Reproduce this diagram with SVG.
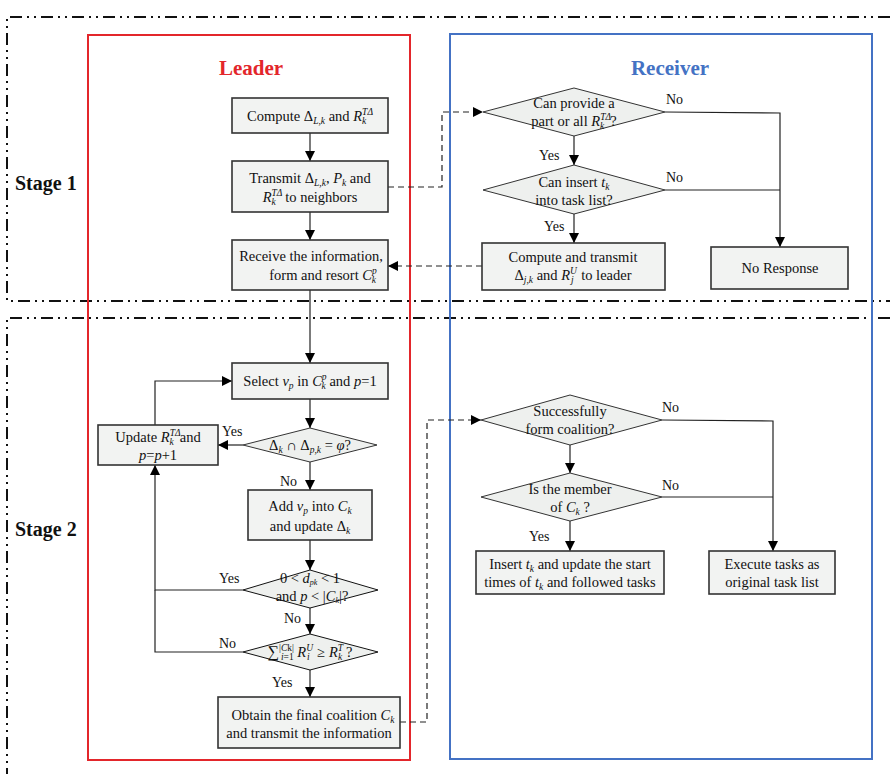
<svg xmlns="http://www.w3.org/2000/svg" width="890" height="774" viewBox="0 0 890 774">
<defs>
<marker id="ah" viewBox="0 0 10 10" refX="10" refY="5" markerWidth="10" markerHeight="10" markerUnits="userSpaceOnUse" orient="auto">
<path d="M0,0 L10,5 L0,10 z" fill="#000"/>
</marker>
<style>
.t{font-family:"Liberation Serif",serif;font-size:14.5px;fill:#111}
.i{font-style:italic}
.s{font-size:9.5px}
.lb{font-family:"Liberation Serif",serif;font-size:14px;fill:#111}
.box{fill:#f2f3f2;stroke:#333;stroke-width:1.6}
.dia{fill:#eef0ee;stroke:#333;stroke-width:1}
.c{fill:none;stroke:#222;stroke-width:1.2}
.cd{fill:none;stroke:#222;stroke-width:1.2;stroke-dasharray:6 4}
.a{marker-end:url(#ah)}
.stg{fill:none;stroke:#111;stroke-width:2;stroke-dasharray:12 5 2 5 2 5}
.h{font-family:"Liberation Serif",serif;font-weight:bold}
</style>
</defs>
<rect width="890" height="774" fill="#fff"/>

<g id="stages">
<polyline class="stg" points="890,17 7,17 7,301 890,301"/>
<polyline class="stg" points="890,318 7,318 7,774"/>
<text class="h" x="15" y="190" font-size="20" fill="#111">Stage 1</text>
<text class="h" x="15" y="536" font-size="20" fill="#111">Stage 2</text>
</g>

<g id="lanes">
<rect x="88" y="35" width="322" height="725" fill="none" stroke="#e3262b" stroke-width="2"/>
<rect x="450" y="34" width="422" height="725" fill="none" stroke="#4472c4" stroke-width="2"/>
<text class="h" x="251" y="75" font-size="21" fill="#e3262b" text-anchor="middle">Leader</text>
<text class="h" x="670" y="75" font-size="21" fill="#4472c4" text-anchor="middle">Receiver</text>
</g>

<g id="connectors">
<line class="c a" x1="310" y1="133" x2="310" y2="161"/>
<line class="c a" x1="310" y1="212" x2="310" y2="240"/>
<line class="c a" x1="310" y1="290" x2="310" y2="363"/>
<line class="c a" x1="310" y1="399" x2="310" y2="428"/>
<line class="c a" x1="243" y1="445" x2="218" y2="445"/>
<polyline class="c a" points="155,425 155,381 232,381"/>
<line class="c a" x1="310" y1="462" x2="310" y2="490"/>
<line class="c a" x1="310" y1="540" x2="310" y2="570"/>
<polyline class="c a" points="243,590 155,590 155,465"/>
<line class="c a" x1="310" y1="608" x2="310" y2="634"/>
<polyline class="c" points="243,652 155,652 155,590"/>
<line class="c a" x1="310" y1="670" x2="310" y2="697"/>
<polyline class="cd a" points="388,187 442,187 442,112 483,112"/>
<line class="cd a" x1="482" y1="266" x2="388" y2="266"/>
<polyline class="cd a" points="400,722 427,722 427,420 481,420"/>
<line class="c a" x1="574" y1="136" x2="574" y2="165"/>
<polyline class="c a" points="665,112 780,113 780,247"/>
<line class="c" x1="665" y1="190" x2="780" y2="190"/>
<line class="c a" x1="574" y1="214" x2="574" y2="243"/>
<line class="c a" x1="570" y1="445" x2="570" y2="473"/>
<polyline class="c a" points="662,420 773,421 773,551"/>
<line class="c" x1="662" y1="497" x2="773" y2="497"/>
<line class="c a" x1="570" y1="521" x2="570" y2="551"/>
<text class="lb" x="222" y="436">Yes</text>
<text class="lb" x="280" y="486">No</text>
<text class="lb" x="219" y="583">Yes</text>
<text class="lb" x="284" y="623">No</text>
<text class="lb" x="219" y="648">No</text>
<text class="lb" x="272" y="687">Yes</text>
<text class="lb" x="539" y="160">Yes</text>
<text class="lb" x="544" y="231">Yes</text>
<text class="lb" x="666" y="104">No</text>
<text class="lb" x="666" y="182">No</text>
<text class="lb" x="662" y="412">No</text>
<text class="lb" x="662" y="490">No</text>
<text class="lb" x="529" y="541">Yes</text>
</g>

<g id="compute">
<rect class="box" x="232" y="98" width="156" height="35"/>
<text class="t" x="310" y="121" text-anchor="middle">Compute Δ<tspan class="s i" dy="3">L,k</tspan><tspan dy="-3"> and </tspan><tspan class="i">R</tspan><tspan class="s i" dy="-6">TΔ</tspan><tspan class="s i" dx="-11" dy="9">k</tspan></text>
</g>

<g id="transmit">
<rect class="box" x="232" y="161" width="156" height="51"/>
<text class="t" x="310" y="183" text-anchor="middle">Transmit Δ<tspan class="s i" dy="3">L,k</tspan><tspan dy="-3">, </tspan><tspan class="i">P</tspan><tspan class="s i" dy="3">k</tspan><tspan dy="-3">  and</tspan></text>
<text class="t" x="310" y="202" text-anchor="middle"><tspan class="i">R</tspan><tspan class="s i" dy="-6">TΔ</tspan><tspan class="s i" dx="-11" dy="9">k</tspan><tspan dx="6" dy="-3">  to neighbors</tspan></text>
</g>

<g id="receive">
<rect class="box" x="232" y="240" width="156" height="50"/>
<text class="t" x="311" y="261" text-anchor="middle">Receive the information,</text>
<text class="t" x="323" y="280" text-anchor="middle">form and resort <tspan class="i">C</tspan><tspan class="s i" dy="-6">p</tspan><tspan class="s i" dx="-5" dy="9">k</tspan></text>
</g>

<g id="select">
<rect class="box" x="232" y="363" width="156" height="36"/>
<text class="t" x="310" y="386" text-anchor="middle">Select <tspan class="i">v</tspan><tspan class="s i" dy="3">p</tspan><tspan dy="-3"> in </tspan><tspan class="i">C</tspan><tspan class="s i" dy="-6">p</tspan><tspan class="s i" dx="-5" dy="9">k</tspan><tspan dy="-3"> and </tspan><tspan class="i">p</tspan>=1</text>
</g>

<g id="intersect">
<polygon class="dia" points="310,428 377,445 310,462 243,445"/>
<text class="t" x="310" y="450" text-anchor="middle">Δ<tspan class="s i" dy="3">k</tspan><tspan dy="-3"> ∩ Δ</tspan><tspan class="s i" dy="3">p,k</tspan><tspan dy="-3"> = </tspan><tspan class="i">φ</tspan>?</text>
</g>

<g id="update">
<rect class="box" x="98" y="425" width="120" height="40"/>
<text class="t" x="158" y="442" text-anchor="middle">Update <tspan class="i">R</tspan><tspan class="s i" dy="-6">TΔ</tspan><tspan class="s i" dx="-11" dy="9">k</tspan><tspan dx="6" dy="-3">and</tspan></text>
<text class="t" x="158" y="460" text-anchor="middle"><tspan class="i">p</tspan>=<tspan class="i">p</tspan>+1</text>
</g>

<g id="add">
<rect class="box" x="248" y="490" width="124" height="50"/>
<text class="t" x="310" y="511" text-anchor="middle">Add <tspan class="i">v</tspan><tspan class="s i" dy="3">p</tspan><tspan dy="-3"> into </tspan><tspan class="i">C</tspan><tspan class="s i" dy="3">k</tspan></text>
<text class="t" x="310" y="531" text-anchor="middle">and update Δ<tspan class="s i" dy="3">k</tspan></text>
</g>

<g id="dcheck">
<polygon class="dia" points="310,570 378,590 310,608 243,590" stroke-width="1.4" style="stroke:#111"/>
<text class="t" x="310" y="583" text-anchor="middle" font-size="10.5">0 &lt; <tspan class="i">d</tspan><tspan font-size="8" class="i" dy="2">pk</tspan><tspan dy="-2"> &lt; 1</tspan></text>
<text class="t" x="312" y="601" text-anchor="middle" font-size="10.5">and  <tspan class="i">p</tspan> &lt; |<tspan class="i">C</tspan><tspan font-size="8" class="i" dy="2">k</tspan><tspan dy="-2">|?</tspan></text>
</g>

<g id="sumcheck">
<polygon class="dia" points="310,634 378,652 310,670 243,652" stroke-width="1.4" style="stroke:#111"/>
<text class="t" x="310" y="657" text-anchor="middle"><tspan font-size="16">∑</tspan><tspan class="s" dy="-6">|<tspan class="i">C</tspan>k|</tspan><tspan class="s i" dx="-13" dy="9">i</tspan><tspan class="s" dy="0">=1</tspan><tspan class="i" dy="-3"> R</tspan><tspan class="s i" dy="-6">U</tspan><tspan class="s i" dx="-6" dy="9">i</tspan><tspan dx="4" dy="-3"> ≥ </tspan><tspan class="i">R</tspan><tspan class="s i" dy="-6">T</tspan><tspan class="s i" dx="-5" dy="9">k</tspan><tspan dy="-3"> ?</tspan></text>
</g>

<g id="obtain">
<rect class="box" x="218" y="697" width="182" height="51"/>
<text class="t" x="313" y="720" text-anchor="middle">Obtain the final coalition <tspan class="i">C</tspan><tspan class="s i" dy="3">k</tspan></text>
<text class="t" x="309" y="738" text-anchor="middle">and transmit the information</text>
</g>

<g id="canprovide">
<polygon class="dia" points="574,88 665,112 574,136 483,112"/>
<text class="t" x="574" y="108" text-anchor="middle">Can provide a</text>
<text class="t" x="574" y="126" text-anchor="middle">part or all <tspan class="i">R</tspan><tspan class="s i" dy="-6">TΔ</tspan><tspan class="s i" dx="-11" dy="9">k</tspan><tspan dx="6" dy="-3">?</tspan></text>
</g>

<g id="caninsert">
<polygon class="dia" points="574,165 665,190 574,214 483,190"/>
<text class="t" x="574" y="187" text-anchor="middle">Can insert <tspan class="i">t</tspan><tspan class="s i" dy="3">k</tspan></text>
<text class="t" x="574" y="205" text-anchor="middle">into task list?</text>
</g>

<g id="computetransmit">
<rect class="box" x="482" y="243" width="183" height="47"/>
<text class="t" x="573" y="262" text-anchor="middle">Compute and transmit</text>
<text class="t" x="573" y="280" text-anchor="middle">Δ<tspan class="s i" dy="3">j,k</tspan><tspan dy="-3"> and </tspan><tspan class="i">R</tspan><tspan class="s i" dy="-6">U</tspan><tspan class="s i" dx="-6" dy="9">j</tspan><tspan dx="4" dy="-3"> to leader</tspan></text>
</g>

<g id="noresponse">
<rect class="box" x="711" y="247" width="137" height="42"/>
<text class="t" x="780" y="273" text-anchor="middle">No Response</text>
</g>

<g id="success">
<polygon class="dia" points="570,395 662,420 570,445 481,420"/>
<text class="t" x="570" y="416" text-anchor="middle">Successfully</text>
<text class="t" x="570" y="434" text-anchor="middle">form coalition?</text>
</g>

<g id="member">
<polygon class="dia" points="570,473 662,497 570,521 481,497"/>
<text class="t" x="570" y="494" text-anchor="middle">Is the member</text>
<text class="t" x="570" y="512" text-anchor="middle">of <tspan class="i">C</tspan><tspan class="s i" dy="3">k</tspan><tspan dy="-3"> ?</tspan></text>
</g>

<g id="insert">
<rect class="box" x="476" y="551" width="188" height="43"/>
<text class="t" x="570" y="569" text-anchor="middle">Insert <tspan class="i">t</tspan><tspan class="s i" dy="3">k</tspan><tspan dy="-3"> and update the start</tspan></text>
<text class="t" x="570" y="587" text-anchor="middle">times of <tspan class="i">t</tspan><tspan class="s i" dy="3">k</tspan><tspan dy="-3">  and followed tasks</tspan></text>
</g>

<g id="execute">
<rect class="box" x="709" y="551" width="126" height="43"/>
<text class="t" x="772" y="569" text-anchor="middle">Execute tasks as</text>
<text class="t" x="772" y="587" text-anchor="middle">original task list</text>
</g>
</svg>
